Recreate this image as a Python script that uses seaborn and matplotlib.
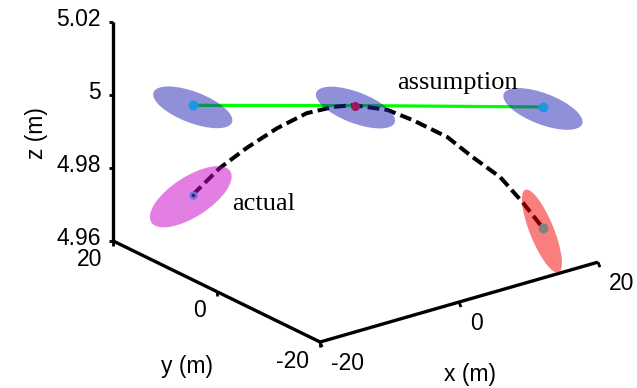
import numpy as np
import matplotlib
matplotlib.use("Agg")
import matplotlib.pyplot as plt
import seaborn as sns
from matplotlib.patches import Ellipse

# ---------------- data ----------------
x_ticks = [-20, 0, 20]
y_ticks = [-20, 0, 20]
z_ticks = [4.96, 4.98, 5.00, 5.02]
x_tick_labels = ["-20", "0", "20"]
y_tick_labels = ["-20", "0", "20"]
z_tick_labels = ["4.96", "4.98", "5", "5.02"]

# actual (curved) trajectory
traj_x = [-14.7, -12.3, -9.8, -7.1, -4.4, -2.0, -0.2, 2.9, 5.2, 8.3, 10.6, 13.1, 15.2, 17.0]
traj_y = [11.7, 9.7, 7.8, 5.6, 3.5, 1.6, 0.2, -2.3, -4.1, -6.6, -8.4, -10.4, -12.0, -13.4]
traj_z = [4.9755, 4.9829, 4.9884, 4.9938, 4.9979, 4.9996, 5.0001, 4.9988,
          4.9960, 4.9914, 4.9859, 4.9804, 4.9733, 4.9664]

# three positions: assumed (straight line) and actual
pts_x = [-14.7, 0.0, 17.0]
pts_y = [11.7, 0.0, -13.4]
assumed_z = [5.0000, 5.0000, 4.9996]
actual_z = [4.9755, 5.0000, 4.9664]

# ---------------- styling ----------------
W, H = 637, 388
sns.set_style("white")
plt.rcParams["font.family"] = ["Liberation Sans", "DejaVu Sans"]
plt.rcParams["text.color"] = "black"
FS = 16.5

fig = plt.figure(figsize=(W / 100, H / 100), dpi=100)
ax = fig.add_axes([0, 0, 1, 1], projection="3d", proj_type="ortho")
ax.set_xlim(-20, 20)
ax.set_ylim(-20, 20)
ax.set_zlim(4.96, 5.02)
ax.view_init(elev=22, azim=-127.5)
ax.set_box_aspect((350, 340, 236))
ax.set_axis_off()


def to_px(xs, ys, zs):
    M = ax.get_proj()
    xs = np.atleast_1d(np.asarray(xs, float))
    ys = np.atleast_1d(np.asarray(ys, float))
    zs = np.atleast_1d(np.asarray(zs, float))
    v = M @ np.vstack([xs, ys, zs, np.ones_like(xs)])
    d = ax.transData.transform(np.column_stack([v[0] / v[3], v[1] / v[3]]))
    return d[:, 0], H - d[:, 1]


# fit the axes box so the axis corners land where they are in the reference
fig.canvas.draw()
corner3d = np.array([[-20, -20, 4.96], [20, -20, 4.96], [-20, 20, 4.96], [-20, 20, 5.02]])
corner_px = np.array([[320, 342], [598, 262], [113, 241], [113, 22]], float)
px, py = to_px(corner3d[:, 0], corner3d[:, 1], corner3d[:, 2])
P = np.column_stack([px, py])
pm, qm = P.mean(0), corner_px.mean(0)
s = np.sum((P - pm) * (corner_px - qm)) / np.sum((P - pm) ** 2)
t = qm - s * pm
pos = ax.get_position(original=True)
X0, Y0, w0, h0 = pos.x0 * W, pos.y0 * H, pos.width * W, pos.height * H
tx, ty = t[0], H * (1 - s) - t[1]
ax.set_position([(s * X0 + tx) / W, (s * Y0 + ty) / H, s * w0 / W, s * h0 / H])
fig.canvas.draw()

# axis lines in 3D
axis_kw = dict(color="black", lw=2.4, solid_capstyle="butt")
ax.plot([-20, -20], [20, 20], [4.96, 5.02], **axis_kw)
ax.plot([-20, -20], [-20, 20], [4.96, 4.96], **axis_kw)
ax.plot([-20, 20], [-20, -20], [4.96, 4.96], **axis_kw)

# lines
ax.plot(pts_x, pts_y, assumed_z, color="#00ff00", lw=2.3, zorder=3)
ax.plot(traj_x, traj_y, traj_z, color="black", lw=2.9, ls=(0, (2.9, 1.3)), zorder=4)

# overlay in pixel space for ellipses, dots and texts
ov = fig.add_axes([0, 0, 1, 1])
ov.set_xlim(0, W)
ov.set_ylim(H, 0)
ov.axis("off")

ax_px, ay_px = to_px(pts_x, pts_y, assumed_z)
cx_px, cy_px = to_px(pts_x, pts_y, actual_z)

blue_fc = (35 / 255, 35 / 255, 180 / 255)
for i in range(3):
    ov.add_patch(Ellipse((ax_px[i], ay_px[i] + 2), 84, 31, angle=21,
                         facecolor=blue_fc, alpha=0.5, edgecolor="none"))
ov.add_patch(Ellipse((cx_px[0] - 2, cy_px[0] + 2), 94, 40, angle=-33,
                     facecolor="#c800c8", alpha=0.5, edgecolor="none"))
ov.add_patch(Ellipse((cx_px[2] - 1, cy_px[2] + 3), 89, 24, angle=68,
                     facecolor="#f50000", alpha=0.5, edgecolor="none"))

# dots
sns.scatterplot(x=[ax_px[0], ax_px[2]], y=[ay_px[0], ay_px[2]], ax=ov,
                color="#1e96e6", s=50, linewidth=0, zorder=5)
sns.scatterplot(x=[cx_px[1]], y=[cy_px[1]], ax=ov, color="#a0145a", s=42,
                linewidth=0, zorder=6)
sns.scatterplot(x=[cx_px[0]], y=[cy_px[0]], ax=ov, color="#5a78e6", s=36,
                linewidth=0, zorder=6)
sns.scatterplot(x=[cx_px[0]], y=[cy_px[0]], ax=ov, color="#50104a", s=6,
                linewidth=0, zorder=7)
sns.scatterplot(x=[cx_px[2]], y=[cy_px[2]], ax=ov, color="#808080", s=50,
                linewidth=0, zorder=6)

# ticks and tick labels
tk = dict(color="black", lw=2.0, solid_capstyle="butt")
zx, zy = to_px([-20] * 4, [20] * 4, z_ticks)
for xx, yy, lab in zip(zx, zy, z_tick_labels):
    ov.plot([xx - 4, xx], [yy, yy], **tk)
    ov.text(xx - 12, yy - 2, lab, ha="right", va="center", fontsize=FS, color="black")
yx, yy_ = to_px([-20] * 3, y_ticks, [4.96] * 3)
for xx, yy, lab in zip(yx, yy_, y_tick_labels):
    ov.plot([xx, xx], [yy, yy + 5], **tk)
    ov.text(xx - 11, yy + 19, lab, ha="right", va="center", fontsize=FS, color="black")
xx_, xy_ = to_px(x_ticks, [-20] * 3, [4.96] * 3)
for xx, yy, lab in zip(xx_, xy_, x_tick_labels):
    ov.plot([xx, xx + 2], [yy, yy + 5], **tk)
    ov.text(xx + 11, yy + 21, lab, ha="left", va="center", fontsize=FS, color="black")

# axis labels
ov.text(36, 133, "z (m)", rotation=90, ha="center", va="center", fontsize=FS, color="black")
ov.text(187, 367, "y (m)", ha="center", va="center", fontsize=FS, color="black")
ov.text(470, 375, "x (m)", ha="center", va="center", fontsize=FS, color="black")

# annotations
ov.text(397, 89, "assumption", ha="left", va="baseline", fontsize=19, color="black",
        family=["Liberation Serif", "DejaVu Serif"])
ov.text(232, 210, "actual", ha="left", va="baseline", fontsize=19, color="black",
        family=["Liberation Serif", "DejaVu Serif"])

ov.set_xlim(0, W)
ov.set_ylim(H, 0)

fig.savefig("out.png", dpi=100)
